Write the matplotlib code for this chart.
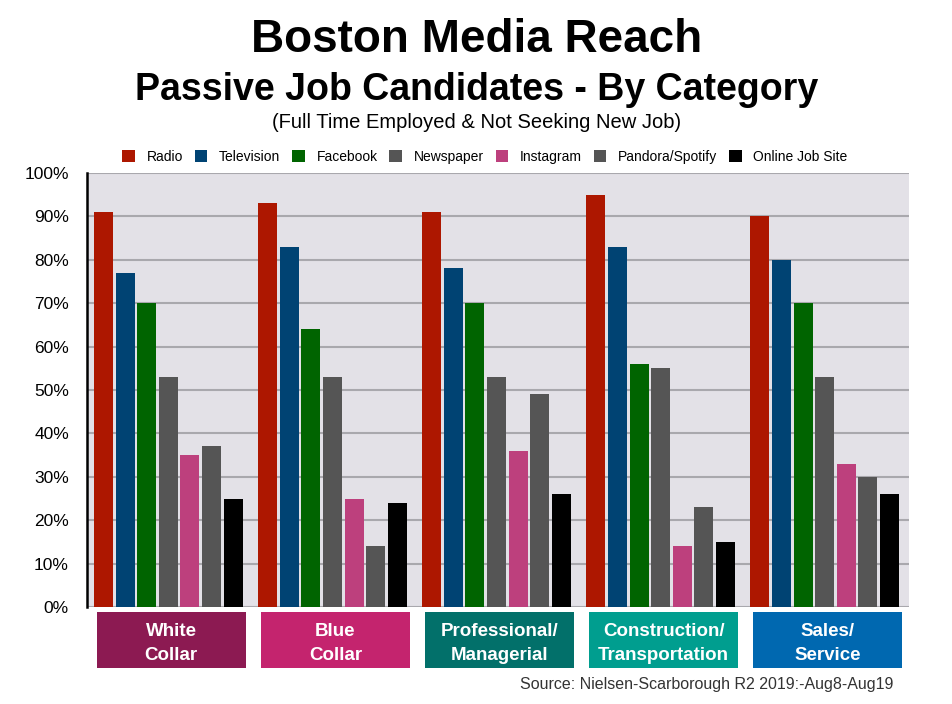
import matplotlib
matplotlib.use("Agg")
import matplotlib.pyplot as plt
from matplotlib.patches import Rectangle, Patch
import matplotlib.transforms as mtransforms

plt.rcParams['font.family'] = ['Liberation Sans', 'DejaVu Sans']

categories = ["White\nCollar", "Blue\nCollar", "Professional/\nManagerial",
              "Construction/\nTransportation", "Sales/\nService"]
category_colors = ["#8C1A52", "#C4246E", "#02706A", "#009E8F", "#0068B0"]

series_names = ["Radio", "Television", "Facebook", "Newspaper", "Instagram",
                "Pandora/Spotify", "Online Job Site"]
series_colors = ["#AD1700", "#004373", "#006400", "#555555", "#BD407D",
                 "#555555", "#000000"]

radio = [91, 93, 91, 95, 90]
television = [77, 83, 78, 83, 80]
facebook = [70, 64, 70, 56, 70]
newspaper = [53, 53, 53, 55, 53]
instagram = [35, 25, 36, 14, 33]
pandora_spotify = [37, 14, 49, 23, 30]
online_job_site = [25, 24, 26, 15, 26]

series_values = [radio, television, facebook, newspaper, instagram,
                 pandora_spotify, online_job_site]

y_ticks = [0, 10, 20, 30, 40, 50, 60, 70, 80, 90, 100]
y_tick_labels = [f"{v}%" for v in y_ticks]

W, H = 953, 704
fig = plt.figure(figsize=(W/100, H/100), dpi=100)
ax = fig.add_axes([87/W, 1 - 607/H, (909-87)/W, (607-173)/H])
ax.set_facecolor("#E3E1E7")

pitch = 7.6
bw = 0.88
for j, (vals, col) in enumerate(zip(series_values, series_colors)):
    xs = [i*pitch + j for i in range(len(categories))]
    ax.bar(xs, vals, width=bw, color=col, zorder=3)

ax.set_xlim(-0.764, 4*pitch + 6 + 0.44 + 0.46)
ax.set_ylim(0, 100)
ax.set_yticks(y_ticks)
ax.set_yticklabels(y_tick_labels, fontsize=12.5)
ax.set_xticks([])
ax.tick_params(axis='y', length=0, pad=13)
ax.grid(axis='y', color="#A9A8AD", linewidth=1.5, zorder=0)
ax.set_axisbelow(True)
for s in ["top", "right", "bottom"]:
    ax.spines[s].set_visible(False)
ax.spines["left"].set_color("black")
ax.spines["left"].set_linewidth(1.8)
ax.spines["left"].set_zorder(5)

# category boxes below axis
trans = mtransforms.blended_transform_factory(ax.transData, ax.transAxes)
ax_h = 607 - 173
box_top = -(612-607)/ax_h
box_bot = -(668-607)/ax_h
line1_base = -(636-607)/ax_h
line2_base = -(660-607)/ax_h
for i, (lab, col) in enumerate(zip(categories, category_colors)):
    x0 = i*pitch - 0.44 + 0.12
    x1 = i*pitch + 6 + 0.44 + 0.15
    r = Rectangle((x0, box_bot), x1 - x0, box_top - box_bot, transform=trans,
                  facecolor=col, edgecolor='none', clip_on=False)
    ax.add_patch(r)
    l1, l2 = lab.split("\n")
    for txt, yb in ((l1, line1_base), (l2, line2_base)):
        ax.text((x0+x1)/2, yb, txt, transform=trans, ha='center',
                va='baseline', color='white', fontsize=13.5, fontweight='bold')

# titles
fig.text(0.5, 1 - 52/H, "Boston Media Reach", ha='center', va='baseline',
         fontsize=33, fontweight='bold', color='black')
fig.text(0.5, 1 - 100/H, "Passive Job Candidates - By Category", ha='center',
         va='baseline', fontsize=27, fontweight='bold', color='black')
fig.text(0.5, 1 - 128.5/H, "(Full Time Employed & Not Seeking New Job)",
         ha='center', va='baseline', fontsize=14.5, color='black')

handles = [Patch(facecolor=c, edgecolor='none') for c in series_colors]
fig.legend(handles, series_names, loc='center', bbox_to_anchor=(485/W, 1 - 157/H),
           ncol=7, frameon=False, fontsize=10, handlelength=0.9, handleheight=0.9,
           handletextpad=0.85, columnspacing=0.85, borderaxespad=0, borderpad=0)

fig.text(893/W, 1 - 685/H, "Source: Nielsen-Scarborough R2 2019:-Aug8-Aug19",
         ha='right', va='center', fontsize=11.5, color='#333333')

fig.savefig("out.png", dpi=100)
